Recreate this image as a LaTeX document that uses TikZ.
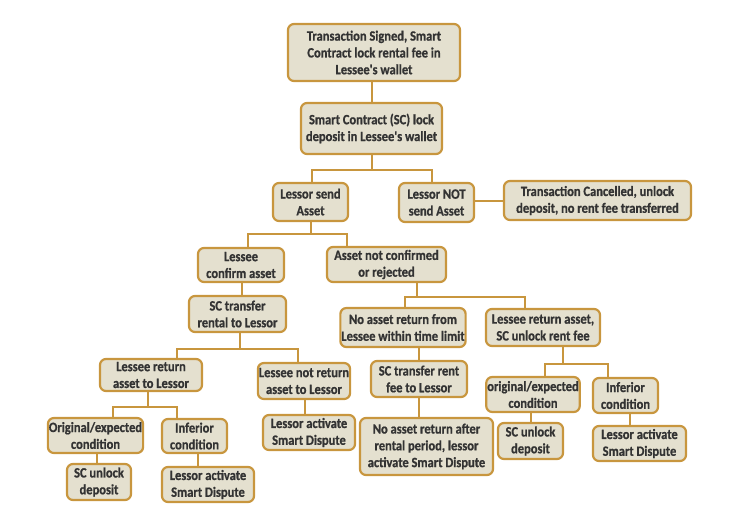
\documentclass[tikz,border=0pt]{standalone}
\usepackage{fontspec}
\usepackage{tikz}
\usetikzlibrary{positioning,calc}
\newfontfamily\boxfont{Carlito}[FakeStretch=0.88,FakeBold=0.8]
\definecolor{gold}{HTML}{C8963E}
\definecolor{sand}{HTML}{E4E0CF}
\definecolor{ink}{HTML}{333333}
\tikzset{box/.style={draw=gold,fill=sand,line width=2.2pt,rounded corners=6pt,
    align=center,inner sep=1pt,text=ink,
    font=\boxfont\bfseries\fontsize{14.2}{16.8}\selectfont},
  link/.style={draw=gold,line width=2pt}}
\begin{document}
\begin{tikzpicture}[x=1pt,y=-1pt]
\useasboundingbox (0,0) rectangle (745,512);
% top of the tree
\node[box,minimum width=172,minimum height=57] (sign) at (374,52.5) {Transaction Signed, Smart\\Contract lock rental fee in\\Lessee's wallet};
\node[box,minimum width=141,minimum height=51] (lock) at (371.5,128.5) {Smart Contract (SC) lock\\deposit in Lessee's wallet};
\node[box,minimum width=75,minimum height=38] (send) at (310.5,202) {Lessor send\\Asset};
\node[box,minimum width=75,minimum height=39] (nosend) at (436.5,202.5) {Lessor NOT\\send Asset};
\node[box,minimum width=187,minimum height=39] (cancel) at (597.5,200.5) {Transaction Cancelled, unlock\\deposit, no rent fee transferred};
\node[box,minimum width=86,minimum height=34] (confirm) at (241,265) {Lessee\\confirm asset};
\node[box,minimum width=119,minimum height=35] (noconf) at (386.5,264.5) {Asset not confirmed\\or rejected};
% right branch
\node[box,minimum width=124,minimum height=39] (noret) at (403,327.5) {No asset return from\\Lessee within time limit};
\node[box,minimum width=114,minimum height=37] (retfee) at (543,327.5) {Lessee return asset,\\SC unlock rent fee};
\node[box,minimum width=96,minimum height=36] (payfee) at (419,379) {SC transfer rent\\fee to Lessor};
\node[box,minimum width=133,minimum height=57] (late) at (426.5,446.5) {No asset return after\\rental period, lessor\\activate Smart Dispute};
\node[box,minimum width=92,minimum height=35] (origR) at (533,394.5) {original/expected\\condition};
\node[box,minimum width=65,minimum height=35] (infR) at (625.5,395.5) {Inferior\\condition};
\node[box,minimum width=65,minimum height=36] (unlockR) at (530.5,441) {SC unlock\\deposit};
\node[box,minimum width=93,minimum height=35] (dispR) at (639.5,443.5) {Lessor activate\\Smart Dispute};
% left branch
\node[box,minimum width=97,minimum height=36] (payrent) at (237.5,314) {SC transfer\\rental to Lessor};
\node[box,minimum width=102,minimum height=32] (ret) at (151,375) {Lessee return\\asset to Lessor};
\node[box,minimum width=92,minimum height=36] (noreturn) at (304,381) {Lessee not return\\asset to Lessor};
\node[box,minimum width=93,minimum height=35] (origL) at (95.5,435.5) {Original/expected\\condition};
\node[box,minimum width=65,minimum height=34] (infL) at (194.5,436) {Inferior\\condition};
\node[box,minimum width=64,minimum height=36] (unlockL) at (99,482) {SC unlock\\deposit};
\node[box,minimum width=92,minimum height=35] (dispL) at (208,484.5) {Lessor activate\\Smart Dispute};
\node[box,minimum width=92,minimum height=35] (dispM) at (309,432.5) {Lessor activate\\Smart Dispute};

% connectors
\draw[link] ([xshift=-2]sign.south) -- ([xshift=-2]sign.south |- lock.north);
\draw[link] (lock.south) -- ++(0,15) -| ([xshift=1.5]send.north);
\draw[link] (lock.south) -- ++(0,15) -| ([xshift=-4.5]nosend.north);
\draw[link] (nosend.east |- cancel.west) -- (cancel.west);
\draw[link] (send.south) -- ++(0,12) -| ([xshift=7]confirm.north);
\draw[link] (send.south) -- ++(0,12) -| ([xshift=-39.5]noconf.north);
\draw[link] ([xshift=1]confirm.south) -- ([xshift=1]confirm.south |- payrent.north);
\draw[link] ([xshift=30.5]noconf.south) -- ++(0,14) -| ([xshift=2]noret.north);
\draw[link] ([xshift=30.5]noconf.south) -- ++(0,14) -| ([xshift=-18]retfee.north);
\draw[link] (payfee.north |- noret.south) -- (payfee.north);
\draw[link] (payfee.south) -- (payfee.south |- late.north);
\draw[link] ([xshift=20]retfee.south) -- ++(0,17) -| ([xshift=12]origR.north);
\draw[link] ([xshift=20]retfee.south) -- ++(0,17) -| ([xshift=-17.5]infR.north);
\draw[link] (unlockR.north |- origR.south) -- (unlockR.north);
\draw[link] ([xshift=4.5]infR.south) -- ([xshift=4.5]infR.south |- dispR.north);
\draw[link] ([xshift=2.5]payrent.south) -- ++(0,16) -| ([xshift=26]ret.north);
\draw[link] ([xshift=2.5]payrent.south) -- ++(0,16) -| ([xshift=-6]noreturn.north);
\draw[link] ([xshift=-3]ret.south) -- ++(0,15) -| ([xshift=17.5]origL.north);
\draw[link] ([xshift=-3]ret.south) -- ++(0,15) -| ([xshift=-17.5]infL.north);
\draw[link] ([xshift=1.5]origL.south) -- ([xshift=1.5]origL.south |- unlockL.north);
\draw[link] ([xshift=3.5]infL.south) -- ([xshift=3.5]infL.south |- dispL.north);
\draw[link] ([xshift=1]noreturn.south) -- ([xshift=1]noreturn.south |- dispM.north);
\end{tikzpicture}
\end{document}
